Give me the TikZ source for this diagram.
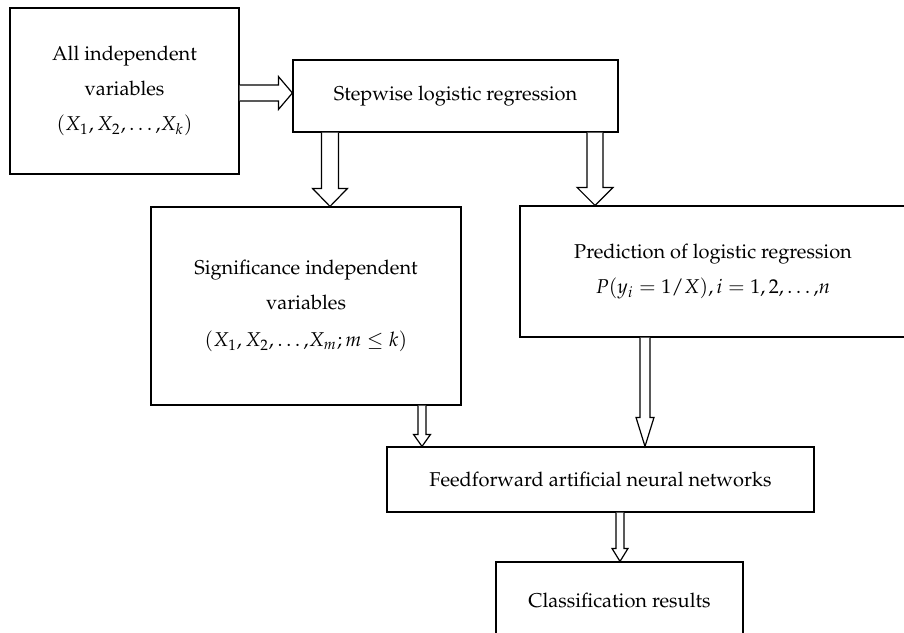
\documentclass[tikz,border=0pt]{standalone}
\usepackage[T1]{fontenc}
\usepackage{mathpazo}
\usepackage{tikz}
\usetikzlibrary{calc}

\tikzset{
  box/.style={draw, line width=0.6pt, rectangle, align=center, inner sep=0pt},
  blockarrow/.style={draw, line width=0.6pt, fill=white},
}
% hollow arrow downwards: x, from node, to node, half shaft, half head, head length
\newcommand{\arrowdown}[6]{%
  \draw[blockarrow] let \p1=(#1,0), \p2=(#2.south), \p3=(#3.north) in
    (\x1-#4,\y2) -- (\x1-#4,\y3+#6) -- (\x1-#5,\y3+#6) -- (\x1,\y3)
    -- (\x1+#5,\y3+#6) -- (\x1+#4,\y3+#6) -- (\x1+#4,\y2);}
% hollow arrow to the right: y, from node, to node, half shaft, half head, head length
\newcommand{\arrowright}[6]{%
  \draw[blockarrow] let \p1=(0,#1), \p2=(#2.east), \p3=(#3.west) in
    (\x2,\y1+#4) -- (\x3-#6,\y1+#4) -- (\x3-#6,\y1+#5) -- (\x3,\y1)
    -- (\x3-#6,\y1-#5) -- (\x3-#6,\y1-#4) -- (\x2,\y1-#4);}

\begin{document}
\begin{tikzpicture}[x=0.5pt, y=-0.5pt, font=\fontsize{10}{17.5}\selectfont]
  \clip (0,0) rectangle (904,632);
  \fill[white] (0,0) rectangle (904,632);

  % boxes
  \node[box, minimum width=114.5pt, minimum height=83pt] (all) at (124.5,91)
    {All independent\\ variables\\ $(X_1, X_2, \ldots{,}X_k)$};
  \node[box, minimum width=162.5pt, minimum height=36pt] (step) at (455.5,96)
    {Stepwise logistic regression};
  \node[box, minimum width=155pt, minimum height=99pt] (sig) at (306,306)
    {Significance independent\\ variables\\[1pt] $(X_1, X_2, \ldots{,}X_m; m \le k)$};
  \node[box, minimum width=193pt, minimum height=65.5pt] (pred) at (713,271.5)
    {Prediction of logistic regression\\ $P(y_i = 1/X), i = 1, 2, \ldots{,}n$};
  \node[box, minimum width=213.5pt, minimum height=32.5pt] (ffnn) at (600.5,479.5)
    {Feedforward artificial neural networks};
  \node[box, minimum width=123.5pt, minimum height=38pt] (result) at (619.5,600)
    {Classification results};

  % arrows
  \arrowright{93}{all}{step}{4pt}{8.25pt}{7pt}
  \arrowdown{330}{step}{sig}{4.25pt}{8.75pt}{9pt}
  \arrowdown{595}{step}{pred}{4pt}{9pt}{9pt}
  \arrowdown{422}{sig}{ffnn}{2pt}{4.25pt}{6pt}
  \arrowdown{645}{pred}{ffnn}{2.5pt}{4.5pt}{14.5pt}
  \arrowdown{620}{ffnn}{result}{2pt}{4pt}{6.5pt}
\end{tikzpicture}
\end{document}
